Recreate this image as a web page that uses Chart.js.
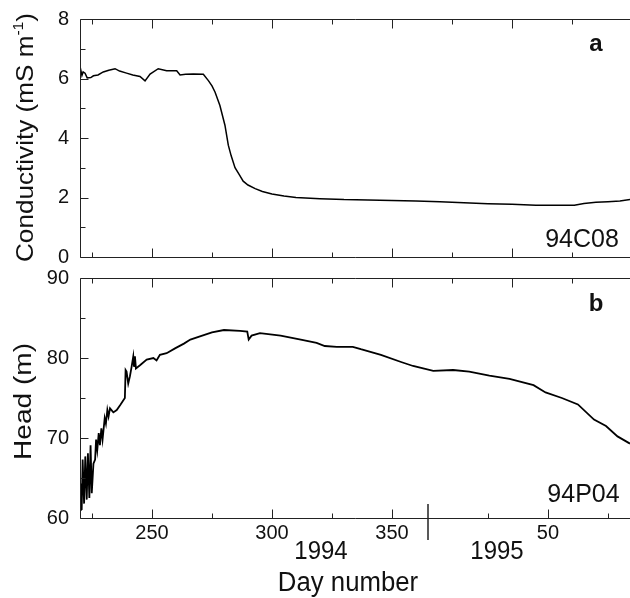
<!DOCTYPE html>
<html>
<head>
<meta charset="utf-8">
<script src="https://cdn.jsdelivr.net/npm/chart.js@4.4.1/dist/chart.umd.min.js"></script>
<style>
body{margin:0;background:#fff;}
#wrap{position:relative;width:630px;height:598px;overflow:hidden;background:#fff;}
canvas{position:absolute;left:0;}
</style>
</head>
<body>
<div id="wrap">
<canvas id="cond" width="630" height="272" style="top:0px"></canvas>
<canvas id="head" width="630" height="336" style="top:262px"></canvas>
</div>
<script>
// conductivity, well 94C08 (day number, mS/m)
const condDays = [220.0, 220.3, 220.8, 221.3, 222.1, 223, 224.5, 225.6, 227.5, 229.7, 232, 234.6, 236.5, 239.4, 242, 245, 247.1, 249.2, 252.6, 256.1, 260.3, 261.7, 264, 267.2, 271.4, 273.5, 275, 276.3, 278.3, 280.4, 281.8, 283, 284.6, 286.5, 288, 290, 293, 296, 300, 305, 310, 320, 330, 340, 350, 360, 370, 380, 390, 400, 410, 420, 426, 430, 435, 440, 445, 449.2];
const condValues = [6.25, 6.29, 6.1, 6.22, 6.18, 6.02, 6.03, 6.09, 6.12, 6.22, 6.28, 6.33, 6.25, 6.18, 6.12, 6.07, 5.92, 6.15, 6.33, 6.26, 6.26, 6.12, 6.14, 6.15, 6.14, 5.93, 5.75, 5.54, 5.09, 4.43, 3.76, 3.4, 3.0, 2.75, 2.55, 2.42, 2.3, 2.2, 2.12, 2.05, 2.0, 1.96, 1.93, 1.92, 1.9, 1.88, 1.86, 1.82, 1.79, 1.77, 1.74, 1.74, 1.74, 1.8, 1.84, 1.86, 1.88, 1.93];

// head, piezometer 94P04 (day number, m)
const headDays = [220.0, 220.3, 220.7, 221.1, 221.7, 222.2, 222.8, 223.3, 223.9, 224.4, 224.9, 225.6, 226.3, 226.7, 227.2, 227.8, 228.3, 228.9, 229.4, 230.3, 230.8, 231.4, 231.9, 232.5, 233.9, 235.3, 236.7, 238.7, 239.0, 239.4, 240.1, 240.8, 241.5, 242.2, 242.5, 242.9, 243.3, 245.0, 247.8, 250.6, 251.9, 253.3, 256.1, 259.6, 263.3, 266, 270, 275, 280, 286.7, 289.7, 290.3, 291.5, 295, 303.6, 312, 318.6, 322, 327, 333.7, 337, 345.4, 353.8, 358.8, 367.2, 375.5, 382.2, 390.6, 399, 409, 414, 420.8, 427.5, 434.2, 439.2, 444, 449.2];
const headValues = [61.0, 64.3, 61.0, 67.3, 61.8, 67.7, 62.3, 68.1, 62.5, 69.1, 63.1, 66.8, 67.3, 69.8, 68.5, 70.6, 69.1, 71.2, 69.8, 72.5, 71.8, 73.5, 72.7, 73.7, 73.2, 73.5, 74.1, 75.0, 78.5, 78.3, 76.8, 77.7, 78.9, 80.2, 78.9, 80.2, 78.7, 79.1, 79.8, 80.0, 79.7, 80.4, 80.6, 81.2, 81.8, 82.3, 82.7, 83.2, 83.5, 83.4, 83.3, 82.3, 82.8, 83.1, 82.8, 82.3, 81.9, 81.5, 81.4, 81.4, 81.1, 80.4, 79.5, 79.0, 78.4, 78.5, 78.3, 77.8, 77.4, 76.6, 75.7, 75.0, 74.2, 72.3, 71.5, 70.2, 69.3];

// axis ticks
const xMin = 220, xMax = 449.2;
const frameMajor = [250, 300, 350, 400];
const frameMinor = [225, 275, 325, 375, 425];
const bottomMajor = [250, 300, 350, 415];
const bottomLabels = ['250', '300', '350', '50'];
const bottomMinor = [225, 275, 325, 390, 440];
const yearSplit = 365;
const condMajor = [0, 2, 4, 6, 8];
const condMinor = [1, 3, 5, 7];
const headMajor = [60, 70, 80, 90];
const headMinor = [65, 75, 85];

const FONT = '"Liberation Sans", Arial, Helvetica, sans-serif';
const INK = '#111';

function drawText(ctx, t, offY) {
  ctx.save();
  ctx.translate(t.x, t.y - offY);
  ctx.scale(t.sx || 1, t.sy || 1);
  ctx.font = (t.bold ? 'bold ' : '') + t.size + 'px ' + FONT;
  ctx.fillStyle = INK;
  ctx.textAlign = 'center';
  ctx.textBaseline = 'alphabetic';
  ctx.fillText(t.t, 0, 0);
  ctx.restore();
}

function drawYTitle(ctx, t, offY) {
  const f = sz => sz + 'px ' + FONT;
  ctx.save();
  ctx.translate(t.x, t.y - offY);
  ctx.rotate(-Math.PI / 2);
  ctx.font = f(t.size);
  const w1 = ctx.measureText(t.main).width;
  let w2 = 0, w3 = 0;
  if (t.sup) {
    ctx.font = f(t.size * 0.6);
    w2 = ctx.measureText(t.sup).width;
    ctx.font = f(t.size);
    w3 = ctx.measureText(t.tail).width;
  }
  const W = w1 + w2 + w3;
  ctx.scale(t.len / W, 1);
  ctx.fillStyle = INK;
  ctx.textAlign = 'left';
  ctx.textBaseline = 'alphabetic';
  let x = -W / 2;
  ctx.font = f(t.size);
  ctx.fillText(t.main, x, 0);
  x += w1;
  if (t.sup) {
    ctx.font = f(t.size * 0.6);
    ctx.fillText(t.sup, x, -t.size * 0.42);
    x += w2;
    ctx.font = f(t.size);
    ctx.fillText(t.tail, x, 0);
  }
  ctx.restore();
}

// frame, inward tick marks and free text
const decor = {
  id: 'decor',
  afterDraw(chart, args, o) {
    const ctx = chart.ctx, a = chart.chartArea;
    const xs = chart.scales.x, ys = chart.scales.y;
    const L = Math.round(a.left) + 0.5, T = Math.round(a.top) + 0.5, B = Math.round(a.bottom) + 0.5;
    ctx.save();
    ctx.strokeStyle = '#222';
    ctx.lineWidth = 1;
    ctx.beginPath();
    ctx.moveTo(a.right, T); ctx.lineTo(L, T); ctx.lineTo(L, B); ctx.lineTo(a.right, B);
    const vt = (v, y0, len) => { const p = Math.round(xs.getPixelForValue(v)) + 0.5; ctx.moveTo(p, y0); ctx.lineTo(p, y0 + len); };
    frameMajor.forEach(v => vt(v, T, 9));
    frameMinor.forEach(v => vt(v, T, 5));
    o.botMajor.forEach(v => vt(v, B, -9));
    o.botMinor.forEach(v => vt(v, B, -5));
    const ht = (v, len) => { const p = Math.round(ys.getPixelForValue(v)) + 0.5; ctx.moveTo(L, p); ctx.lineTo(L + len, p); };
    o.yMajor.forEach(v => ht(v, 8));
    o.yMinor.forEach(v => ht(v, 5));
    ctx.stroke();
    if (o.split) {
      ctx.lineWidth = 1.5;
      ctx.beginPath();
      const p = Math.round(xs.getPixelForValue(yearSplit));
      ctx.moveTo(p, 504 - o.offY); ctx.lineTo(p, 540 - o.offY);
      ctx.stroke();
    }
    o.texts.forEach(t => drawText(ctx, t, o.offY));
    drawYTitle(ctx, o.title, o.offY);
    ctx.restore();
  }
};

function makeChart(id, days, values, yMin, yMax, yMajor, opts) {
  return new Chart(document.getElementById(id).getContext('2d'), {
    type: 'line',
    data: {
      datasets: [{
        data: days.map((d, i) => ({x: d, y: values[i]})),
        borderColor: '#000',
        borderWidth: opts.lw,
        pointRadius: 0,
        tension: 0,
        fill: false
      }]
    },
    options: {
      responsive: false,
      animation: false,
      events: [],
      layout: {padding: {top: opts.padTop, right: 0, bottom: 0, left: 0}},
      plugins: {legend: {display: false}, tooltip: {enabled: false}, decor: opts.decor},
      scales: {
        x: {
          type: 'linear', min: xMin, max: xMax,
          afterBuildTicks: ax => { ax.ticks = opts.xTicks.map(v => ({value: v})); },
          afterFit: ax => { ax.height = opts.xHeight; },
          grid: {display: false}, border: {display: false},
          ticks: {
            display: opts.xTicks.length > 0, padding: -5, color: INK, maxRotation: 0, autoSkip: false,
            font: {family: FONT, size: 20},
            callback: v => bottomLabels[bottomMajor.indexOf(v)]
          }
        },
        y: {
          min: yMin, max: yMax,
          afterBuildTicks: ax => { ax.ticks = yMajor.map(v => ({value: v})); },
          afterFit: ax => { ax.width = 80; },
          grid: {display: false}, border: {display: false},
          ticks: {padding: 3, color: INK, font: {family: FONT, size: 20}}
        }
      }
    },
    plugins: [decor]
  });
}

makeChart('cond', condDays, condValues, 0, 8, condMajor, {
  lw: 1.5, padTop: 19, xHeight: 12, xTicks: [],
  decor: {
    offY: 0, botMajor: frameMajor, botMinor: frameMinor, yMajor: condMajor, yMinor: condMinor, split: false,
    texts: [
      {t: 'a', x: 596, y: 51, size: 24, bold: true},
      {t: '94C08', x: 582, y: 247, size: 25}
    ],
    title: {main: 'Conductivity (mS m', sup: '-1', tail: ')', x: 33, y: 137.5, size: 24, len: 249}
  }
});

makeChart('head', headDays, headValues, 60, 90, headMajor, {
  lw: 1.8, padTop: 16, xHeight: 80, xTicks: bottomMajor,
  decor: {
    offY: 262, botMajor: bottomMajor, botMinor: bottomMinor, yMajor: headMajor, yMinor: headMinor, split: true,
    texts: [
      {t: 'b', x: 596, y: 311, size: 24, bold: true},
      {t: '94P04', x: 583.5, y: 502, size: 25},
      {t: '1994', x: 321, y: 559, size: 24, sy: 1.1},
      {t: '1995', x: 497, y: 559, size: 24, sy: 1.1},
      {t: 'Day number', x: 348, y: 591, size: 25, sx: 1.03, sy: 1.1}
    ],
    title: {main: 'Head (m)', x: 31, y: 401.5, size: 23, len: 117}
  }
});
</script>
</body>
</html>
